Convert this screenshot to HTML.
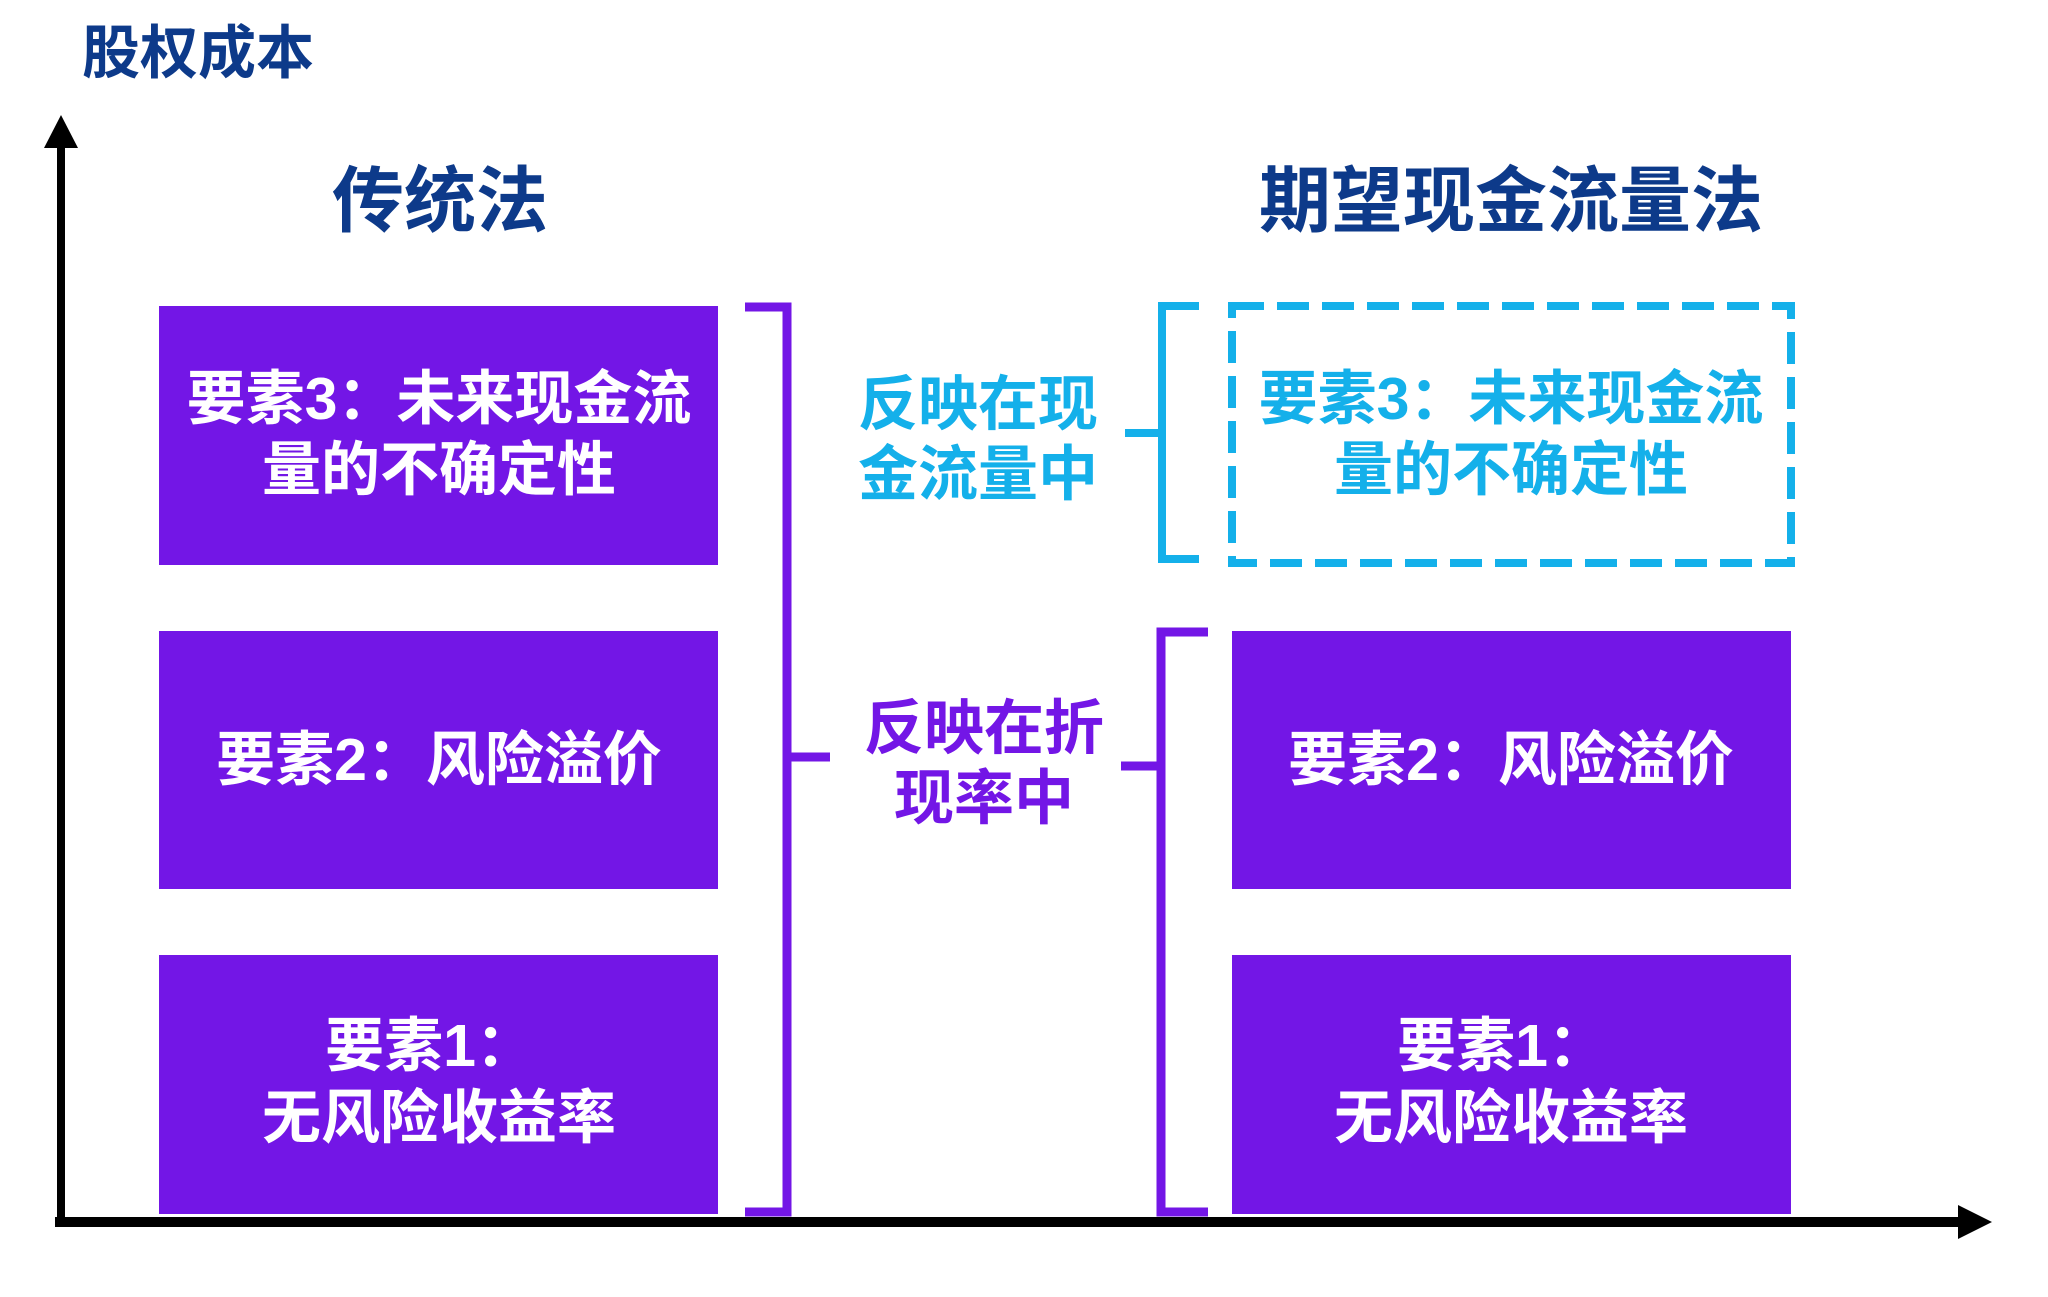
<!DOCTYPE html>
<html><head><meta charset="utf-8"><style>
html,body{margin:0;padding:0;background:#fff;}
svg{display:block;}
text{font-family:"Liberation Sans","Noto Sans CJK SC",sans-serif;font-weight:700;}
</style></head><body>
<svg width="2048" height="1297" viewBox="0 0 2048 1297" xmlns="http://www.w3.org/2000/svg">
<rect width="2048" height="1297" fill="#fff"/>
<text x="82" y="73" font-size="58" fill="#0d3a8a">股权成本</text>
<rect x="57" y="140" width="8" height="1086" fill="#000"/>
<polygon points="61,115 44,148 78,148" fill="#000"/>
<rect x="55" y="1217" width="1910" height="10" fill="#000"/>
<polygon points="1992,1222 1958,1205 1958,1239" fill="#000"/>
<text x="440" y="226" font-size="72" fill="#0d3a8a" text-anchor="middle">传统法</text>
<text x="1511" y="226" font-size="72" fill="#0d3a8a" text-anchor="middle">期望现金流量法</text>
<g fill="#7316e6">
<rect x="159" y="306" width="559" height="259"/>
<rect x="159" y="631" width="559" height="258"/>
<rect x="159" y="955" width="559" height="259"/>
<rect x="1232" y="631" width="559" height="258"/>
<rect x="1232" y="955" width="559" height="259"/>
</g>
<g fill="#fff" font-size="59" text-anchor="middle">
<text x="439" y="419">要素3：未来现金流</text>
<text x="439" y="490">量的不确定性</text>
<text x="439" y="780">要素2：风险溢价</text>
<text x="430" y="1066">要素1：</text>
<text x="439" y="1138">无风险收益率</text>
<text x="1511" y="780">要素2：风险溢价</text>
<text x="1502" y="1066">要素1：</text>
<text x="1511" y="1138">无风险收益率</text>
</g>
<rect x="1232" y="306" width="559" height="257" fill="none" stroke="#14b0ea" stroke-width="8" stroke-dasharray="32 13"/>
<g fill="#14b0ea" font-size="59" text-anchor="middle">
<text x="1511" y="419">要素3：未来现金流</text>
<text x="1511" y="490">量的不确定性</text>
</g>
<g fill="#14b0ea" font-size="60" text-anchor="middle">
<text x="978" y="425">反映在现</text>
<text x="978" y="495">金流量中</text>
</g>
<path d="M1199,306 H1162 V559 H1199 M1125,433 H1162" fill="none" stroke="#14b0ea" stroke-width="8"/>
<path d="M745,307 H787 V1212 H745 M787,757 H830" fill="none" stroke="#7316e6" stroke-width="9"/>
<path d="M1208,632 H1161 V1212 H1208 M1121,766 H1161" fill="none" stroke="#7316e6" stroke-width="9"/>
<g fill="#7316e6" font-size="60" text-anchor="middle">
<text x="984" y="749">反映在折</text>
<text x="984" y="819">现率中</text>
</g>
</svg>
</body></html>
